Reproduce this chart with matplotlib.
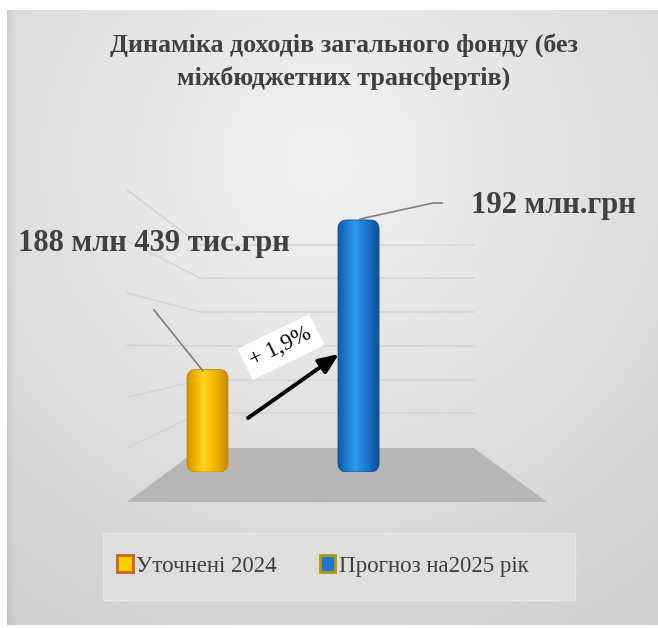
import numpy as np
import matplotlib
matplotlib.use("Agg")
import matplotlib.pyplot as plt
from matplotlib.patches import FancyBboxPatch, Polygon, Rectangle, Patch
from matplotlib.colors import LinearSegmentedColormap
from matplotlib.font_manager import FontProperties

# ---------------- data ----------------
categories = ["Уточнені 2024", "Прогноз на2025 рік"]
values = [188.439, 192.0]                       # млн грн
value_labels = ["188 млн 439 тис.грн", "192 млн.грн"]
growth_label = "+ 1,9%"
title_lines = ["Динаміка доходів загального фонду (без", "міжбюджетних трансфертів)"]
axis_min = 186.0

# ---------------- figure ----------------
W, H = 658, 628
fig = plt.figure(figsize=(W / 100, H / 100), dpi=100)
fig.patch.set_facecolor("white")

# background / decoration axes in pixel coordinates
bg = fig.add_axes([0, 0, 1, 1])
bg.set_xlim(0, W)
bg.set_ylim(H, 0)
bg.axis("off")

yy, xx = np.mgrid[0:H, 0:W]
d = np.hypot(xx - 320, yy - 160)
v = 0.95 - 0.17 * d / 700.0
shadow = np.clip((xx - 7) / 8.0, 0, 1)
v = v * (0.94 + 0.06 * shadow)
panel = (xx >= 7) & (yy >= 10) & (yy <= 624)
v = np.where(panel, v, 1.0)
bg.imshow(np.dstack([v, v, v]), extent=(0, W, H, 0), aspect="auto",
          interpolation="bilinear", zorder=0)

# 3D wall gridlines
for yb in [245, 278, 312, 346, 380, 413]:
    yf = 190 + (yb - 245) * 312 / 203
    bg.plot([127, 200, 474], [yf, yb, yb], color="#d3d3d3", lw=1.0, zorder=1)

# floor
bg.add_patch(Polygon([(127, 502), (200, 448), (474, 448), (547, 502)],
                     closed=True, fc="#b6b6b6", ec="none", zorder=1))

# legend background box
bg.add_patch(Rectangle((103, 533), 472, 67, fc="#dedede", ec="#e5e5e5",
                       lw=1, zorder=1))

# ---------------- bars ----------------
x0_px, x1_px, yb_px, yt_px = 127, 547, 472, 190
ax = fig.add_axes([x0_px / W, 1 - yb_px / H, (x1_px - x0_px) / W, (yb_px - yt_px) / H])
ax.patch.set_alpha(0)
ax.axis("off")
xlim = (-0.533, 2.248)
ylim = (axis_min, 192.714)
ax.set_xlim(*xlim)
ax.set_ylim(*ylim)

px_x = (x1_px - x0_px) / (xlim[1] - xlim[0])
px_y = (yb_px - yt_px) / (ylim[1] - ylim[0])

xpos = np.arange(len(values))
bars = ax.bar(xpos, np.array(values) - axis_min, bottom=axis_min,
              width=0.2715, color="none", edgecolor="none")

grads = [
    ["#cf9300", "#f0b400", "#ffd424", "#f7bd00", "#e0a400", "#c48800"],
    ["#0f5aa6", "#1b7bd2", "#2e9bee", "#2083d8", "#1568b8", "#0b4c8e"],
]
edges = ["#c08a00", "#0b4f94"]
r_px = 9
for bar, g, ec in zip(bars, grads, edges):
    bx, by, bw, bh = bar.get_x(), bar.get_y(), bar.get_width(), bar.get_height()
    patch = FancyBboxPatch((bx, by), bw, bh,
                           boxstyle=f"round,pad=0,rounding_size={r_px / px_x}",
                           mutation_aspect=px_x / px_y,
                           fc="none", ec=ec, lw=0.6, zorder=3)
    ax.add_patch(patch)
    cmap = LinearSegmentedColormap.from_list("c", g)
    grad = cmap(np.linspace(0, 1, 256))[None, :, :]
    im = ax.imshow(grad, extent=(bx, bx + bw, by, by + bh), aspect="auto",
                   interpolation="bicubic", zorder=2)
    im.set_clip_path(patch)
ax.set_xlim(*xlim)
ax.set_ylim(*ylim)

# ---------------- overlay: labels, arrow ----------------
ov = fig.add_axes([0, 0, 1, 1])
ov.set_xlim(0, W)
ov.set_ylim(H, 0)
ov.axis("off")
ov.patch.set_alpha(0)

serif = "Liberation Serif"
ov.text(344, 45, title_lines[0], ha="center", va="center", fontsize=18.7,
        fontweight="bold", family=serif, color="#404040")
ov.text(344, 78, title_lines[1], ha="center", va="center", fontsize=18.7,
        fontweight="bold", family=serif, color="#404040")

ov.plot([154, 203], [310, 371], color="#7f7f7f", lw=1.2)
ov.plot([360, 433, 442], [219, 203, 203], color="#7f7f7f", lw=1.2)

ov.text(154, 244, value_labels[0], ha="center", va="center", fontsize=22,
        fontweight="bold", family=serif, color="#404040")
ov.text(553, 205, value_labels[1], ha="center", va="center", fontsize=22,
        fontweight="bold", family=serif, color="#404040")

ov.annotate("", xy=(339, 354), xytext=(248, 418),
            arrowprops=dict(arrowstyle="-|>,head_length=0.6,head_width=0.25",
                            mutation_scale=20, color="black", lw=2.8,
                            shrinkA=0, shrinkB=0))
ov.text(281, 347, growth_label, rotation=26, rotation_mode="anchor",
        ha="center", va="center", fontsize=16.5, family=serif, color="black",
        bbox=dict(boxstyle="square,pad=0.3", fc="white", ec="none"))

# ---------------- legend ----------------
handles = [Patch(fc="#ffd000", ec="#c8641e", lw=2),
           Patch(fc="#1a78d0", ec="#b8960a", lw=2)]
fig.legend(handles=handles, labels=categories, loc="center left",
           bbox_to_anchor=(117 / W, 1 - 566 / H), ncol=2, frameon=False,
           prop=FontProperties(family=serif, size=16.5), labelcolor="#404040",
           handlelength=0.68, handleheight=0.7, handletextpad=0.17,
           columnspacing=1.86, borderpad=0, borderaxespad=0)

fig.savefig("out.png", dpi=100)
